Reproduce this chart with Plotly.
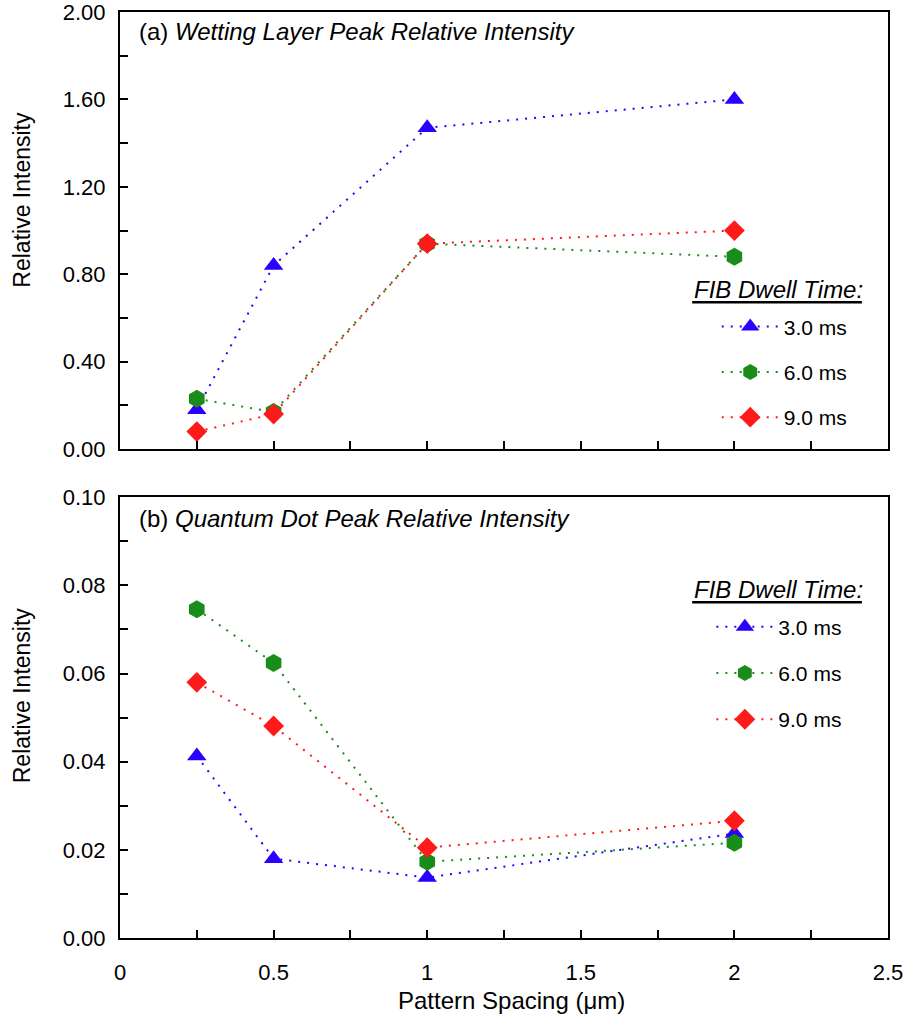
import plotly.graph_objects as go

# ---- data ----
spacing = [0.25, 0.5, 1, 2]
series_names = ["3.0 ms", "6.0 ms", "9.0 ms"]
wl_3ms = [0.18, 0.84, 1.47, 1.60]
wl_6ms = [0.23, 0.17, 0.94, 0.88]
wl_9ms = [0.08, 0.16, 0.94, 1.00]
qd_3ms = [0.0413, 0.0180, 0.0137, 0.0237]
qd_6ms = [0.0746, 0.0624, 0.0173, 0.0216]
qd_9ms = [0.0580, 0.0481, 0.0205, 0.0266]

colors = ["#2a00ff", "#1a8c1a", "#ff1a1a"]
symbols = ["triangle-up", "hexagon", "diamond"]
msizes = [17, 18, 16]
FONT = "Liberation Sans, Arial, sans-serif"

fig = go.Figure()

for i, (name, ys) in enumerate(zip(series_names, [wl_3ms, wl_6ms, wl_9ms])):
    fig.add_trace(go.Scatter(
        x=spacing, y=ys, name=name, mode="lines+markers",
        line=dict(color=colors[i], width=2, dash="2px,7px"),
        marker=dict(symbol=symbols[i], size=msizes[i], color=colors[i]),
        xaxis="x", yaxis="y", legend="legend", legendgroup="a" + str(i)))

for i, (name, ys) in enumerate(zip(series_names, [qd_3ms, qd_6ms, qd_9ms])):
    fig.add_trace(go.Scatter(
        x=spacing, y=ys, name=name, mode="lines+markers",
        line=dict(color=colors[i], width=2, dash="2px,7px"),
        marker=dict(symbol=symbols[i], size=msizes[i], color=colors[i]),
        xaxis="x2", yaxis="y2", legend="legend2", legendgroup="b" + str(i)))

axis_common = dict(showline=True, linecolor="black", linewidth=2, mirror=True,
                   ticks="inside", ticklen=8, tickwidth=2, tickcolor="black",
                   showgrid=False, zeroline=False, automargin=False,
                   ticklabeloverflow="allow",
                   tickfont=dict(family=FONT, size=22, color="black"))
minor_common = dict(ticks="inside", ticklen=8, tickwidth=2, tickcolor="black")

fig.update_layout(
    width=911, height=1020,
    margin=dict(l=120, r=23, t=12, b=82),
    plot_bgcolor="white", paper_bgcolor="white",
    font=dict(family=FONT, color="black"),
    showlegend=True,
    xaxis=dict(domain=[0, 1], range=[0, 2.5], anchor="y", dtick=0.5, tick0=0,
               showticklabels=False, minor=dict(dtick=0.25, **minor_common),
               **axis_common),
    yaxis=dict(domain=[0.528, 1.0], range=[0, 2.0], anchor="x", dtick=0.4, tick0=0,
               tickformat=".2f", ticklabelstandoff=8,
               minor=dict(dtick=0.2, **minor_common), **axis_common),
    xaxis2=dict(domain=[0, 1], range=[0, 2.5], anchor="y2", dtick=0.5, tick0=0,
                tickformat="~g", ticklabelstandoff=14,
                minor=dict(dtick=0.25, **minor_common), **axis_common),
    yaxis2=dict(domain=[0, 0.476], range=[0, 0.1], anchor="x2", dtick=0.02, tick0=0,
                tickformat=".2f", ticklabelstandoff=8,
                minor=dict(dtick=0.01, **minor_common), **axis_common),
    legend=dict(x=0.777, y=0.682, xanchor="left", yanchor="top", xref="paper", yref="paper",
                bgcolor="rgba(0,0,0,0)", font=dict(family=FONT, size=21),
                itemwidth=57, tracegroupgap=15, traceorder="grouped"),
    legend2=dict(x=0.770, y=0.358, xanchor="left", yanchor="top", xref="paper", yref="paper",
                 bgcolor="rgba(0,0,0,0)", font=dict(family=FONT, size=21),
                 itemwidth=57, tracegroupgap=16, traceorder="grouped"),
)

# axis titles
for yr, yy in [("y domain", 0.57), ("y2 domain", 0.55)]:
    fig.add_annotation(text="Relative Intensity", xref="paper", yref=yr,
                       x=-0.128, y=yy, xanchor="center", yanchor="middle",
                       textangle=-90, showarrow=False,
                       font=dict(family=FONT, size=23, color="black"))
fig.add_annotation(text="Pattern Spacing (μm)", xref="x2 domain", yref="paper",
                   x=0.51, y=-0.068, xanchor="center", yanchor="middle", showarrow=False,
                   font=dict(family=FONT, size=24, color="black"))

# panel titles
fig.add_annotation(text="(a) <i>Wetting Layer Peak Relative Intensity</i>",
                   xref="x domain", yref="y domain", x=0.022, y=0.955,
                   xanchor="left", yanchor="middle", showarrow=False,
                   font=dict(family=FONT, size=24, color="black"))
fig.add_annotation(text="(b) <i>Quantum Dot Peak Relative Intensity</i>",
                   xref="x2 domain", yref="y2 domain", x=0.022, y=0.952,
                   xanchor="left", yanchor="middle", showarrow=False,
                   font=dict(family=FONT, size=24, color="black"))

# legend headings with underline
for xr, yr, yy, yu in [("x domain", "y domain", 0.366, 0.336),
                       ("x2 domain", "y2 domain", 0.791, 0.762)]:
    fig.add_annotation(text="<i>FIB Dwell Time:</i>", xref=xr, yref=yr,
                       x=0.97, y=yy, xanchor="right", yanchor="middle", showarrow=False,
                       font=dict(family=FONT, size=24, color="black"))
    fig.add_shape(type="line", xref=xr, yref=yr, x0=0.745, x1=0.966, y0=yu, y1=yu,
                  line=dict(color="black", width=2.5))

fig.write_html("out.html")
